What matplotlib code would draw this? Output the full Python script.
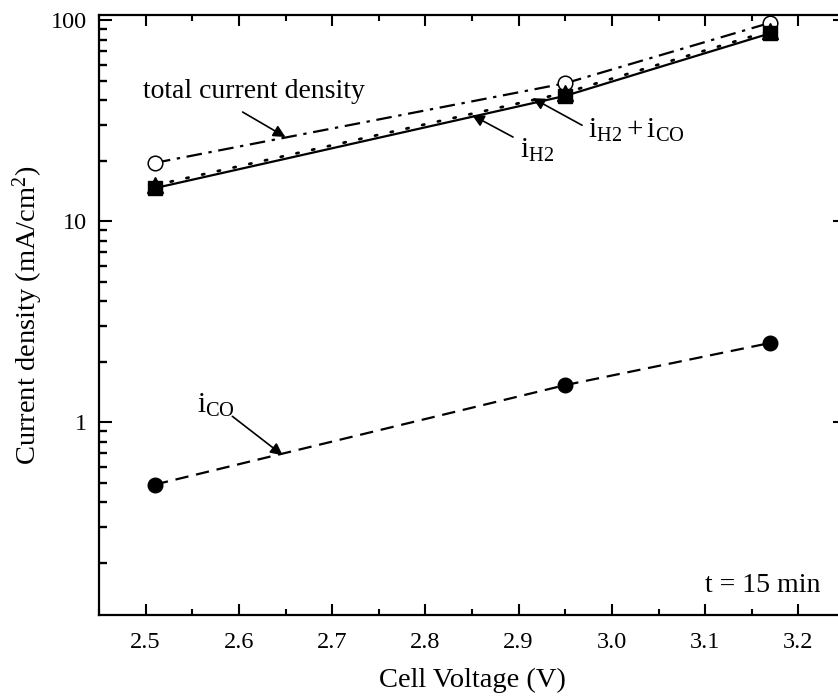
import matplotlib
matplotlib.use("Agg")
import matplotlib.pyplot as plt
from matplotlib.ticker import FixedLocator, NullFormatter, MultipleLocator

plt.rcParams['font.family'] = ['Liberation Serif', 'DejaVu Serif']
plt.rcParams['mathtext.fontset'] = 'custom'
plt.rcParams['mathtext.rm'] = 'Liberation Serif'
plt.rcParams['mathtext.it'] = 'Liberation Serif:italic'

# data
voltage = [2.51, 2.95, 3.17]
i_total = [19.5, 48.5, 97.0]
i_h2 = [14.6, 42.0, 86.0]
i_sum = [15.1, 43.5, 88.5]
i_co = [0.49, 1.53, 2.48]

xticks = [2.5, 2.6, 2.7, 2.8, 2.9, 3.0, 3.1, 3.2]
yticks = [1, 10, 100]

fig = plt.figure(figsize=(8.38, 6.96), dpi=100)
ax = fig.add_axes([99/838, 1-615/696, (845-99)/838, (615-15)/696])

lw = 1.6
ax.plot(voltage, i_total, color='black', lw=lw, dashes=(7, 3, 1.5, 3),
        marker='o', ms=10.5, mfc='white', mec='black', mew=1.1, zorder=3)
ax.plot(voltage, i_sum, color='black', lw=2.0, dashes=(0.8, 5),
        dash_capstyle='round', marker='^', ms=11, mfc='black', mec='black', zorder=4)
ax.plot(voltage, i_h2, color='black', lw=lw, ls='-',
        marker='s', ms=9.5, mfc='black', mec='black', zorder=4)
ax.plot(voltage, i_co, color='black', lw=lw, dashes=(6, 3.5),
        marker='o', ms=10.5, mfc='black', mec='black', zorder=4)

ax.set_yscale('log')
ax.set_xlim(2.45, 3.25)
ax.set_ylim(0.11, 106)

ax.xaxis.set_major_locator(FixedLocator(xticks))
ax.xaxis.set_minor_locator(MultipleLocator(0.05))
ax.set_xticklabels([f"{t:.1f}" for t in xticks])
ax.yaxis.set_major_locator(FixedLocator(yticks))
ax.set_yticklabels([str(t) for t in yticks])
yminor = [s * 10.0 ** e for e in (-1, 0, 1) for s in range(2, 10)]
ax.yaxis.set_minor_locator(FixedLocator(yminor))
ax.yaxis.set_minor_formatter(NullFormatter())

ax.tick_params(axis='x', which='both', direction='in', top=True, bottom=True,
               width=1.5, labelsize=17.5, pad=12)
ax.tick_params(axis='x', which='major', length=8)
ax.tick_params(axis='x', which='minor', length=4.5)
ax.tick_params(axis='y', which='major', direction='in', left=True, right=True,
               width=1.5, length=9, labelsize=17.5, pad=9)
ax.tick_params(axis='y', which='minor', direction='in', left=True, right=False,
               width=1.7, length=5.5, color='black')
for s in ax.spines.values():
    s.set_linewidth(1.6)

ax.set_xlabel('Cell Voltage (V)', fontsize=20.5, labelpad=11)
ax.set_ylabel(r'Current density (mA/cm$^2$)', fontsize=20.5, labelpad=4)

arrow = dict(arrowstyle='-|>', color='black', lw=1.2, mutation_scale=18, shrinkA=0, shrinkB=0)
ax.annotate('', xy=(2.65, 26.2), xytext=(2.604, 34.9), arrowprops=arrow)
ax.text(2.497, 41, 'total current density', fontsize=20, ha='left', va='baseline')

ax.annotate('', xy=(2.850, 33.7), xytext=(2.894, 26.2), arrowprops=arrow)
ax.text(2.902, 20.6, r'$\mathregular{i_{H2}}$', fontsize=21, ha='left', va='baseline')

ax.annotate('', xy=(2.915, 40.9), xytext=(2.968, 30.0), arrowprops=arrow)
ax.text(2.974, 25.9, r'$\mathregular{i_{H2} + i_{CO}}$', fontsize=21, ha='left', va='baseline')

ax.annotate('', xy=(2.647, 0.685), xytext=(2.593, 1.07), arrowprops=arrow)
ax.text(2.555, 1.11, r'$\mathregular{i_{CO}}$', fontsize=21, ha='left', va='baseline')

ax.text(3.224, 0.143, 't = 15 min', fontsize=20, ha='right', va='baseline')

fig.savefig('out.png', dpi=100)
